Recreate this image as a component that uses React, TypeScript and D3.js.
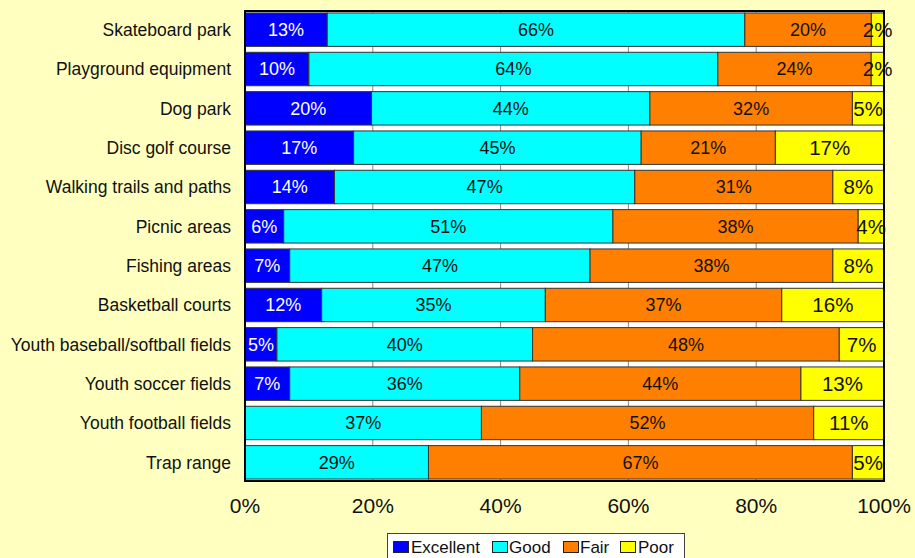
import React from 'react';
import * as d3 from 'd3';

const categories = [
  'Skateboard park',
  'Playground equipment',
  'Dog park',
  'Disc golf course',
  'Walking trails and paths',
  'Picnic areas',
  'Fishing areas',
  'Basketball courts',
  'Youth baseball/softball fields',
  'Youth soccer fields',
  'Youth football fields',
  'Trap range',
];

const seriesNames = ['Excellent', 'Good', 'Fair', 'Poor'];

// percentages as shown on the bars (rows are normalised to 100%)
const excellent = [13, 10, 20, 17, 14, 6, 7, 12, 5, 7, 0, 0];
const good = [66, 64, 44, 45, 47, 51, 47, 35, 40, 36, 37, 29];
const fair = [20, 24, 32, 21, 31, 38, 38, 37, 48, 44, 52, 67];
const poor = [2, 2, 5, 17, 8, 4, 8, 16, 7, 13, 11, 5];

const tickValues = [0, 0.2, 0.4, 0.6, 0.8, 1];

const colors = ['#0000FF', '#00FFFF', '#FF8000', '#FFFF00'];
const labelColors = ['#FFFFFF', '#111111', '#111111', '#111111'];
const labelSizes = [18, 18, 18, 20.5];

const W = 915;
const H = 558;
const left = 245;
const right = 884;
const top = 11;
const bottom = 481;
const font = 'Arial, "Liberation Sans", sans-serif';

export default function App() {
  const rows = categories.map((c, i) => ({
    cat: c,
    Excellent: excellent[i],
    Good: good[i],
    Fair: fair[i],
    Poor: poor[i],
  }));

  const stack = d3.stack<any>().keys(seriesNames).offset(d3.stackOffsetExpand);
  const layers = stack(rows);

  const x = d3.scaleLinear().domain([0, 1]).range([left, right]);
  const y = d3.scaleBand().domain(categories).range([top, bottom]).paddingInner(0.15).paddingOuter(0.05);

  const legendItems = [
    { name: 'Excellent', sx: 393, tx: 411 },
    { name: 'Good', sx: 492, tx: 509 },
    { name: 'Fair', sx: 563, tx: 580 },
    { name: 'Poor', sx: 620, tx: 638 },
  ];

  return (
    <div style={{ position: 'absolute', left: 0, top: 0 }}>
      <svg width={W} height={H} style={{ display: 'block', fontFamily: font }}>
        <rect x={0} y={0} width={W} height={H} fill="#FFFFC0" />
        <rect x={left} y={top} width={right - left} height={bottom - top} fill="#FFFFFF" />
        {tickValues.slice(1, -1).map((t) => (
          <line key={t} x1={x(t)} x2={x(t)} y1={top} y2={bottom} stroke="#888" strokeWidth={1} />
        ))}
        {layers.map((layer, si) => (
          <g key={layer.key}>
            {layer.map((d, i) => {
              const w = x(d[1]) - x(d[0]);
              if (w <= 0) return null;
              const yy = y(categories[i]) as number;
              return (
                <rect
                  key={i}
                  x={x(d[0])}
                  y={yy}
                  width={w}
                  height={y.bandwidth()}
                  fill={colors[si]}
                  stroke="#333"
                  strokeWidth={1}
                />
              );
            })}
          </g>
        ))}
        {layers.map((layer, si) => (
          <g key={'l' + layer.key}>
            {layer.map((d, i) => {
              const w = x(d[1]) - x(d[0]);
              if (w <= 0) return null;
              const yy = (y(categories[i]) as number) + y.bandwidth() / 2;
              const v = (rows[i] as any)[layer.key];
              return (
                <text
                  key={i}
                  x={(x(d[0]) + x(d[1])) / 2}
                  y={yy}
                  dy="0.36em"
                  textAnchor="middle"
                  fontSize={labelSizes[si]}
                  fill={labelColors[si]}
                >
                  {v + '%'}
                </text>
              );
            })}
          </g>
        ))}
        <rect x={left} y={top} width={right - left} height={bottom - top} fill="none" stroke="#000" strokeWidth={2} />
        {categories.map((c) => (
          <text
            key={c}
            x={231}
            y={(y(c) as number) + y.bandwidth() / 2}
            dy="0.36em"
            textAnchor="end"
            fontSize={17.5}
            fill="#111"
          >
            {c}
          </text>
        ))}
        {tickValues.map((t) => (
          <text key={t} x={x(t)} y={512.5} textAnchor="middle" fontSize={21} fill="#111">
            {d3.format('.0%')(t)}
          </text>
        ))}
        <rect x={387.5} y={533.5} width={297} height={30} fill="#FFFFFF" stroke="#444" strokeWidth={1} />
        {legendItems.map((it, i) => (
          <g key={it.name}>
            <rect x={it.sx + 0.5} y={541.5} width={15} height={11} fill={colors[i]} stroke="#222" strokeWidth={1} />
            <text x={it.tx} y={553} fontSize={17} fill="#111">
              {it.name}
            </text>
          </g>
        ))}
      </svg>
    </div>
  );
}
